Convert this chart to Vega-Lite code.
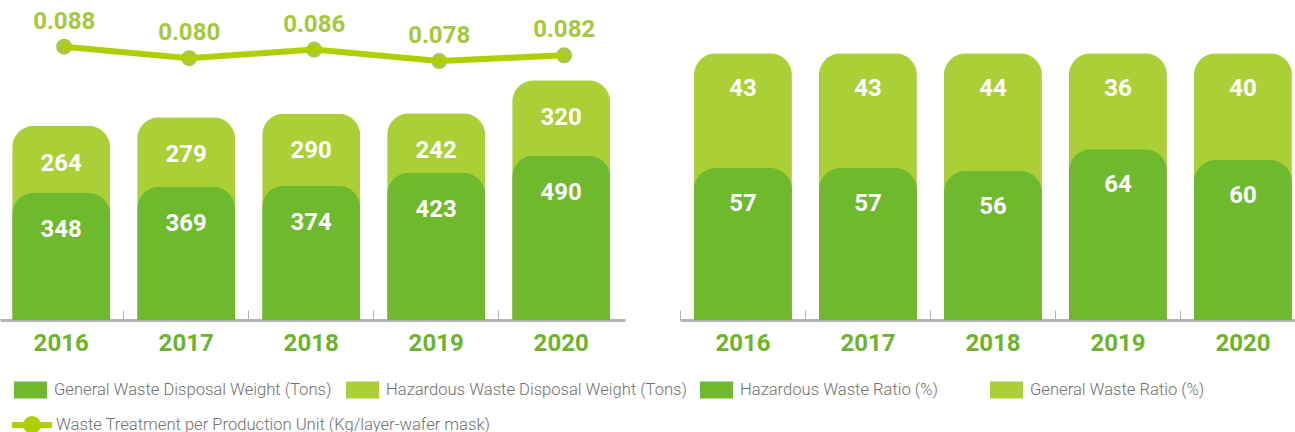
{
  "$schema": "https://vega.github.io/schema/vega-lite/v6.json",
  "padding": {"left": -3, "top": 0, "right": 0, "bottom": 0},
  "spacing": 55,
  "bounds": "flush",
  "config": {
    "view": {"stroke": null},
    "font": "Roboto",
    "axis": {
      "domainColor": "#b5b5b5", "domainWidth": 3, "tickColor": "#b0b0b0", "tickSize": -10, "tickWidth": 1,
      "labelFont": "Roboto", "labelFontSize": 24, "labelFontWeight": "bold", "labelColor": "#6bb42c",
      "labelPadding": 21, "labelAngle": 0, "title": null, "grid": false, "zindex": 1
    }
  },
  "resolve": {"scale": {"fill": "independent", "y": "independent", "x": "independent"}, "legend": {"fill": "independent"}},
  "hconcat": [
    {
      "width": 625, "height": 320,
      "data": {"values": [
        {"year": "2016", "general": 348, "hazardous": 264, "unit": 0.088},
        {"year": "2017", "general": 369, "hazardous": 279, "unit": 0.080},
        {"year": "2018", "general": 374, "hazardous": 290, "unit": 0.086},
        {"year": "2019", "general": 423, "hazardous": 242, "unit": 0.078},
        {"year": "2020", "general": 490, "hazardous": 320, "unit": 0.082}
      ]},
      "transform": [{"calculate": "datum.general + datum.hazardous", "as": "total"}],
      "encoding": {
        "x": {"field": "year", "type": "nominal", "scale": {"paddingInner": 0.216, "paddingOuter": 0.108, "align": 0.45}, "axis": {"bandPosition": -0.138}}
      },
      "layer": [
        {
          "encoding": {"y": {"type": "quantitative", "scale": {"type": "pow", "exponent": 0.75, "domain": [0, 1190]}, "axis": null}},
          "layer": [
            {
              "mark": {"type": "bar", "cornerRadiusTopLeft": 22, "cornerRadiusTopRight": 22},
              "encoding": {
                "y": {"field": "total", "type": "quantitative"},
                "fill": {"datum": "Hazardous Waste Disposal Weight (Tons)"}
              }
            },
            {
              "mark": {"type": "text", "color": "white", "fontSize": 24, "fontWeight": "bold", "baseline": "middle", "dy": 38},
              "encoding": {"y": {"field": "total", "type": "quantitative"}, "text": {"field": "hazardous"}}
            },
            {
              "mark": {"type": "bar", "cornerRadiusTopLeft": 22, "cornerRadiusTopRight": 22},
              "encoding": {
                "y": {"field": "general", "type": "quantitative"},
                "fill": {"datum": "General Waste Disposal Weight (Tons)",
                  "scale": {"domain": ["General Waste Disposal Weight (Tons)", "Hazardous Waste Disposal Weight (Tons)"], "range": ["#6eb92d", "#abcf37"]},
                  "legend": {"orient": "none", "legendX": 14, "legendY": 373, "direction": "horizontal", "title": null,
                    "symbolType": "M-1,-0.515H1V0.515H-1Z", "symbolSize": 1089, "symbolStrokeWidth": 0,
                    "labelFont": "Roboto", "labelFontSize": 16.6, "labelFontWeight": 300, "labelColor": "#707070", "labelOffset": 7, "columnPadding": 14, "labelLimit": 400}
                }
              }
            },
            {
              "mark": {"type": "text", "color": "white", "fontSize": 24, "fontWeight": "bold", "baseline": "middle", "dy": 37},
              "encoding": {"y": {"field": "general", "type": "quantitative"}, "text": {"field": "general"}}
            }
          ]
        },
        {
          "encoding": {"y": {"field": "unit", "type": "quantitative", "scale": {"domain": [-0.1023, 0.1205], "zero": false, "nice": false}, "axis": null}},
          "layer": [
            {"mark": {"type": "point", "filled": true, "size": 254, "opacity": 1, "color": "#a8c93c", "xOffset": 3}},
            {
              "mark": {"type": "line", "strokeWidth": 6, "xOffset": 3},
              "encoding": {"stroke": {"datum": "Waste Treatment per Production Unit (Kg/layer-wafer mask)",
                "scale": {"range": ["#aecf00"]},
                "legend": {"orient": "none", "legendX": 9, "legendY": 402, "title": null,
                  "symbolType": "M-1,0H1M0.3,0A0.3,0.3,0,1,1,-0.3,0A0.3,0.3,0,1,1,0.3,0", "symbolSize": 1600, "symbolStrokeWidth": 6, "symbolFillColor": "#aecf00",
                  "labelFont": "Roboto", "labelFontSize": 16.6, "labelFontWeight": 300, "labelColor": "#707070", "labelOffset": 1, "labelLimit": 600}}}
            },
            {
              "mark": {"type": "text", "color": "#a6c83b", "fontSize": 24, "fontWeight": "bold", "baseline": "middle", "dy": -25, "xOffset": 3},
              "encoding": {"text": {"field": "unit", "format": ".3f"}}
            }
          ]
        }
      ],
      "resolve": {"scale": {"y": "independent"}}
    },
    {
      "width": 615, "height": 320,
      "data": {"values": [
        {"year": "2016", "haz": 57, "gen": 43},
        {"year": "2017", "haz": 57, "gen": 43},
        {"year": "2018", "haz": 56, "gen": 44},
        {"year": "2019", "haz": 64, "gen": 36},
        {"year": "2020", "haz": 60, "gen": 40}
      ]},
      "transform": [{"calculate": "datum.haz + datum.gen", "as": "total"}],
      "encoding": {
        "x": {"field": "year", "type": "nominal", "scale": {"paddingInner": 0.216, "paddingOuter": 0.068, "align": 0.82}, "axis": {"bandPosition": -0.138}},
        "y": {"type": "quantitative", "scale": {"domain": [0, 120], "nice": false}, "axis": null}
      },
      "layer": [
        {
          "mark": {"type": "bar", "cornerRadiusTopLeft": 22, "cornerRadiusTopRight": 22},
          "encoding": {"y": {"field": "total", "type": "quantitative"}, "fill": {"datum": "General Waste Ratio (%)"}}
        },
        {
          "mark": {"type": "text", "color": "white", "fontSize": 24, "fontWeight": "bold", "baseline": "middle", "dy": 36},
          "encoding": {"y": {"field": "total", "type": "quantitative"}, "text": {"field": "gen"}}
        },
        {
          "mark": {"type": "bar", "cornerRadiusTopLeft": 22, "cornerRadiusTopRight": 22},
          "encoding": {
            "y": {"field": "haz", "type": "quantitative"},
            "fill": {"datum": "Hazardous Waste Ratio (%)",
              "scale": {"domain": ["Hazardous Waste Ratio (%)", "General Waste Ratio (%)"], "range": ["#6eb92d", "#abcf37"]},
              "legend": {"orient": "none", "legendX": 20, "legendY": 373, "direction": "horizontal", "title": null,
                "symbolType": "M-1,-0.515H1V0.515H-1Z", "symbolSize": 1089, "symbolStrokeWidth": 0,
                "labelFont": "Roboto", "labelFontSize": 16.6, "labelFontWeight": 300, "labelColor": "#707070", "labelOffset": 7, "columnPadding": 52, "labelLimit": 400}
            }
          }
        },
        {
          "mark": {"type": "text", "color": "white", "fontSize": 24, "fontWeight": "bold", "baseline": "middle", "dy": 36},
          "encoding": {"y": {"field": "haz", "type": "quantitative"}, "text": {"field": "haz"}}
        }
      ]
    }
  ]
}
